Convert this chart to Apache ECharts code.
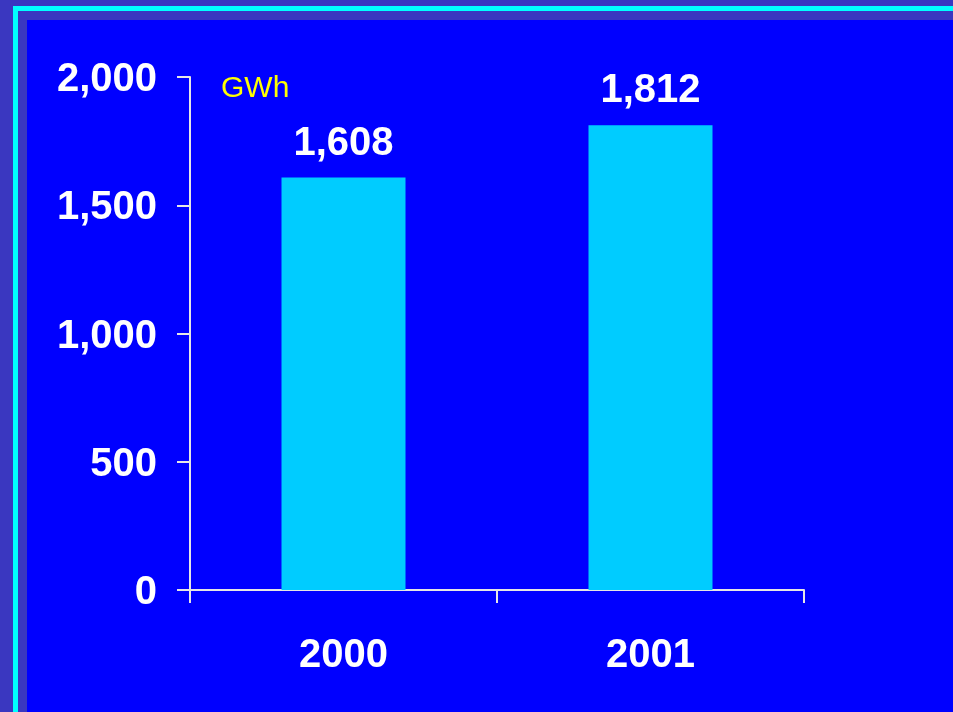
<!DOCTYPE html>
<html>
<head>
<meta charset="utf-8">
<script src="https://cdn.jsdelivr.net/npm/echarts@6/dist/echarts.min.js"></script>
<style>
  html, body { margin: 0; padding: 0; }
  #main { width: 953px; height: 712px; }
</style>
</head>
<body>
<div id="main"></div>
<script>
// data
var years = ['2000', '2001'];
var energy = [1608, 1812];
var unitLabel = 'GWh';

var myChart = echarts.init(document.getElementById('main'));
var font = '"Liberation Sans", Arial, sans-serif';

myChart.setOption({
  backgroundColor: '#3a37c0',
  graphic: [
    // frame like the slide
    { type: 'rect', z: -10, shape: { x: 13, y: 6, width: 940, height: 706 }, style: { fill: '#00ffff' } },
    { type: 'rect', z: -9, shape: { x: 18, y: 11, width: 935, height: 701 }, style: { fill: '#3a37c0' } },
    { type: 'rect', z: -8, shape: { x: 27, y: 20, width: 926, height: 692 }, style: { fill: '#0000ff' } },
    {
      type: 'text', left: 221, top: 74,
      style: { text: unitLabel, fill: '#ffff00', font: '30px ' + font }
    }
  ],
  grid: { left: 190, right: 149, top: 77, bottom: 122 },
  xAxis: {
    type: 'category',
    data: years,
    axisLine: { lineStyle: { color: '#e6e6e6', width: 2 } },
    axisTick: { show: true, length: 13, lineStyle: { color: '#e6e6e6', width: 2 } },
    axisLabel: { color: '#ffffff', fontSize: 40, fontWeight: 'bold', fontFamily: font, margin: 46 }
  },
  yAxis: {
    type: 'value',
    min: 0, max: 2000, interval: 500,
    splitLine: { show: false },
    axisLine: { show: true, lineStyle: { color: '#e6e6e6', width: 2 } },
    axisTick: { show: true, length: 13, lineStyle: { color: '#e6e6e6', width: 2 } },
    axisLabel: {
      margin: 33,
      formatter: function (v) { return '{v|' + v.toLocaleString('en-US') + '}'; },
      rich: {
        v: { color: '#ffffff', fontSize: 40, fontWeight: 'bold', fontFamily: font, padding: [6, 0, 0, 0] }
      }
    }
  },
  series: [{
    type: 'bar',
    data: energy,
    barWidth: 124,
    itemStyle: { color: '#00ccff' },
    label: {
      show: true, position: 'top', distance: 14,
      color: '#ffffff', fontSize: 40, fontWeight: 'bold', fontFamily: font,
      formatter: function (p) { return p.value.toLocaleString('en-US'); }
    }
  }]
});
</script>
</body>
</html>
